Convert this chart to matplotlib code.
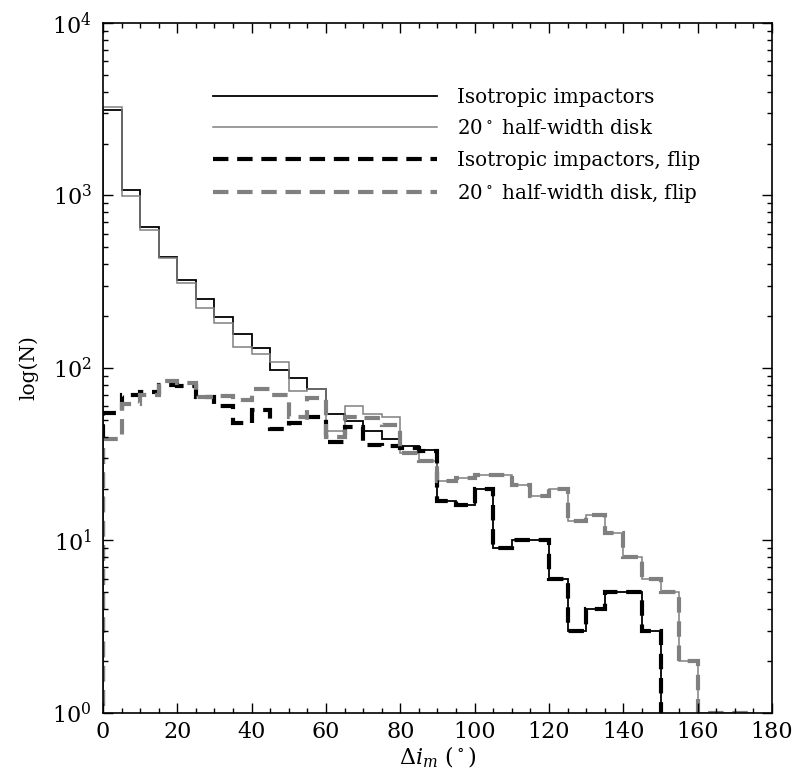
import numpy as np
import matplotlib
matplotlib.use("Agg")
import matplotlib.pyplot as plt

plt.rcParams["font.family"] = "DejaVu Serif"
plt.rcParams["mathtext.fontset"] = "dejavuserif"
plt.rcParams["font.size"] = 11.5

# ---------------- DATA (counts per 5 degree bin) ----------------
edges = np.arange(0, 185, 5)

iso = [3150, 1080, 656, 442, 324, 250, 198, 157, 131, 97, 87, 76,
       54, 49, 43, 39, 35.5, 33.5, 17, 16, 20, 9, 10, 10,
       6, 3, 4, 5, 5, 3, 0, 0, 0, 0, 0, 0]
disk = [3250, 990, 631, 432, 312, 222, 182, 133, 120, 109, 74, 76,
        43, 60, 54, 52, 32, 29, 22, 23, 24, 24, 21, 18,
        20, 13, 14, 11, 8, 6, 5, 2, 1, 1, 1, 0]
iso_flip = [55, 70, 73, 80, 79, 68, 60, 48, 57, 44.5, 48, 52,
            37, 45.5, 36, 35.5, 34.5, 33, 17, 16, 20, 9, 10, 10,
            6, 3, 4, 5, 5, 3, 0, 0, 0, 0, 0, 0]
disk_flip = [39, 62, 70, 84, 82, 68, 69, 65, 76, 70, 52, 67,
             40, 52, 51.5, 47, 32, 29, 22, 23, 24, 24, 21, 18,
             20, 13, 14, 11, 8, 6, 5, 2, 1, 1, 1, 0]

labels = ["Isotropic impactors",
          r"20$^\circ$ half-width disk",
          "Isotropic impactors, flip",
          r"20$^\circ$ half-width disk, flip"]

# ---------------- FIGURE ----------------
fig = plt.figure(figsize=(8.02, 7.77), dpi=100)
ax = fig.add_axes([0.1284, 0.0824, 0.8342, 0.888])

ax.stairs(iso, edges, baseline=0, color="black", lw=1.3, label=labels[0])
ax.stairs(disk, edges, baseline=0, color="0.5", lw=1.1, label=labels[1])
ax.stairs(iso_flip, edges, baseline=0, color="black", lw=3,
          ls=(0, (3.7, 2.1)), label=labels[2])
ax.stairs(disk_flip, edges, baseline=0, color="0.5", lw=3,
          ls=(0, (3.7, 2.1)), label=labels[3])

ax.set_yscale("log", nonpositive="clip")
ax.set_ylim(1, 1e4)
ax.set_xlim(0, 180)
ax.set_xticks(np.arange(0, 181, 20))
ax.set_xticks(np.arange(0, 181, 5), minor=True)

ax.tick_params(which="both", direction="in", top=True, right=True,
               labelsize=16)
ax.tick_params(which="major", length=7, width=1)
ax.tick_params(which="minor", length=3.5, width=1)
ax.tick_params(axis="x", pad=6)
ax.tick_params(axis="y", pad=8)
for s in ax.spines.values():
    s.set_linewidth(1.2)

ax.set_xlabel(r"$\Delta i_m$ ($^\circ$)", fontsize=16, labelpad=1)
ax.set_ylabel("log(N)", fontsize=14.5, labelpad=10)

ax.legend(loc="upper left", bbox_to_anchor=(0.1644, 0.906), frameon=False,
          handlelength=11.3, handletextpad=1.0, borderaxespad=0,
          borderpad=0, labelspacing=0.63, fontsize=14.3)

fig.savefig("out.png", dpi=100)
